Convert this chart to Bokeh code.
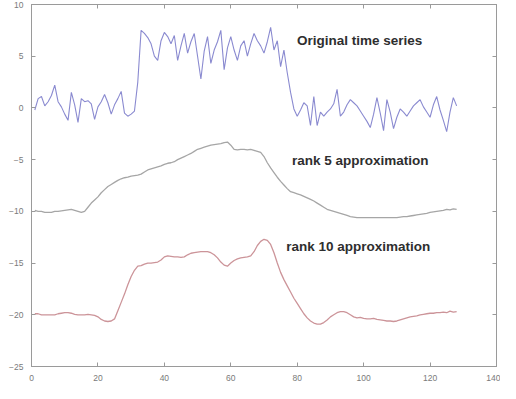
from bokeh.plotting import figure
from bokeh.models import Range1d, LinearAxis, SingleIntervalTicker, Label
from bokeh.embed import file_html
from bokeh.resources import INLINE

# ---- data ----
x_index = list(range(1, 129))

original = [
    -0.2, 0.9, 1.1, 0.2, 0.6, 1.2, 2.2, 0.6, 0.1, -0.6,
    -1.2, 1.5, 0.3, -1.4, 0.9, 0.6, 0.7, 0.4, -1.1, 0.1,
    0.6, 1.3, 0.5, -0.6, 0.3, 0.9, 1.6, -0.5, -0.8, -0.6,
    -0.3, 2.5, 7.5, 7.2, 6.8, 6.2, 5.0, 4.6, 6.5, 7.3,
    6.9, 6.2, 7.0, 4.6, 6.0, 7.2, 5.3, 6.4, 7.2, 5.0,
    2.8, 5.5, 6.9, 4.3, 5.6, 6.4, 7.5, 3.7, 5.8, 6.9,
    5.6, 4.6, 6.0, 6.5, 5.0, 6.2, 7.2, 6.5, 6.0, 5.3,
    6.4, 7.8, 5.6, 6.5, 4.0, 5.6, 3.4, 1.5, -0.1, -0.8,
    -0.2, 0.5, 0.2, -1.7, 1.1, -1.7, -0.4, -0.8, -0.4, -0.1,
    0.4, 1.8, -0.8, -0.4, 0.3, 0.8, 0.5, 0.2, -0.3, -0.8,
    -1.3, -1.9, -0.6, 1.0, -0.5, -2.2, 0.8, -0.4, -2.0, -0.9,
    -0.1, -0.4, -0.8, -0.3, 0.2, 0.5, 0.8, 0.1, -0.4, -0.9,
    0.3, 1.1, -0.2, -1.2, -2.3, -0.4, 1.0, 0.2,
]

rank5 = [
    -9.9, -10.0, -10.0, -10.1, -10.1, -10.1, -10.0, -10.0, -9.95, -9.9,
    -9.85, -9.8, -9.9, -10.0, -10.1, -10.0, -9.6, -9.2, -8.9, -8.6,
    -8.2, -7.9, -7.6, -7.4, -7.2, -7.0, -6.85, -6.75, -6.7, -6.6,
    -6.55, -6.5, -6.4, -6.2, -6.0, -5.9, -5.8, -5.7, -5.6, -5.45,
    -5.35, -5.3, -5.2, -5.0, -4.85, -4.7, -4.55, -4.4, -4.2, -4.0,
    -3.9, -3.8, -3.7, -3.6, -3.55, -3.5, -3.45, -3.35, -3.3, -3.6,
    -4.0, -4.05, -4.0, -4.0, -4.05, -4.0, -4.1, -4.2, -4.3, -4.7,
    -5.3, -5.8, -6.25, -6.7, -7.1, -7.45, -7.8, -8.1, -8.2, -8.3,
    -8.4, -8.55, -8.7, -8.85, -9.0, -9.2, -9.4, -9.6, -9.8, -9.9,
    -10.0, -10.1, -10.2, -10.3, -10.4, -10.5, -10.55, -10.6, -10.6, -10.6,
    -10.6, -10.6, -10.6, -10.6, -10.6, -10.6, -10.6, -10.6, -10.6, -10.6,
    -10.55, -10.5, -10.5, -10.45, -10.4, -10.35, -10.3, -10.25, -10.2, -10.1,
    -10.05, -10.0, -9.95, -9.9, -9.8, -9.85, -9.75, -9.8,
]

rank10 = [
    -19.9, -19.9, -20.0, -20.0, -20.0, -20.0, -20.0, -19.9, -19.85, -19.8,
    -19.8, -19.85, -19.95, -20.0, -20.0, -20.0, -19.95, -20.0, -20.05, -20.2,
    -20.45, -20.6, -20.65, -20.6, -20.4, -19.6, -18.8, -18.0, -17.1, -16.3,
    -15.7, -15.3, -15.25, -15.1, -15.0, -15.0, -14.95, -14.9, -14.7, -14.4,
    -14.3, -14.35, -14.4, -14.4, -14.45, -14.4, -14.2, -14.05, -14.0, -13.95,
    -13.9, -13.9, -13.9, -14.0, -14.2, -14.5, -14.9, -15.2, -15.3, -15.0,
    -14.75, -14.6, -14.5, -14.45, -14.4, -14.3, -13.9, -13.3, -12.9, -12.7,
    -12.8, -13.2, -14.0, -15.0, -15.9, -16.6, -17.2, -17.8, -18.4, -18.9,
    -19.4, -19.9, -20.3, -20.6, -20.8, -20.9, -20.9, -20.75, -20.5, -20.2,
    -20.0, -19.8, -19.7, -19.7, -19.8, -20.0, -20.2, -20.3, -20.25, -20.35,
    -20.4, -20.4, -20.35, -20.45, -20.5, -20.55, -20.6, -20.6, -20.65, -20.6,
    -20.5, -20.4, -20.3, -20.2, -20.15, -20.1, -20.0, -19.95, -19.9, -19.85,
    -19.85, -19.8, -19.8, -19.75, -19.8, -19.65, -19.75, -19.7,
]

label_texts = ["Original time series", "rank 5 approximation", "rank 10 approximation"]
label_x = [79.9, 78.4, 76.7]
label_y = [6.5, -5.05, -13.4]

x_range = (0, 140)
y_range = (-25, 10)
x_tick_step = 20
y_tick_step = 5

# ---- figure ----
AXIS_COLOR = "#9a9a9a"
TICK_LABEL_COLOR = "#7a7a7a"

p = figure(width=500, height=383, output_backend="svg", toolbar_location=None,
           x_range=Range1d(*x_range), y_range=Range1d(*y_range),
           min_border_left=31, min_border_right=1, min_border_top=2,
           min_border_bottom=17, background_fill_color="white",
           border_fill_color="white")
p.grid.visible = False
p.outline_line_color = AXIS_COLOR
p.outline_line_width = 1

def style_axis(ax, show_labels):
    ax.axis_line_color = AXIS_COLOR
    ax.major_tick_line_color = AXIS_COLOR
    ax.major_tick_in = 4
    ax.major_tick_out = 0
    ax.minor_tick_line_color = None
    ax.major_label_text_font = "Liberation Sans"
    if show_labels:
        ax.major_label_text_color = TICK_LABEL_COLOR
        ax.major_label_text_font_size = "8.5px"
        ax.major_label_standoff = 4
    else:
        ax.major_label_text_color = None
        ax.major_label_text_font_size = "0px"
        ax.major_label_standoff = 0

p.xaxis.ticker = SingleIntervalTicker(interval=x_tick_step)
p.yaxis.ticker = SingleIntervalTicker(interval=y_tick_step)
style_axis(p.xaxis[0], True)
style_axis(p.yaxis[0], True)

top_ax = LinearAxis(ticker=SingleIntervalTicker(interval=x_tick_step))
right_ax = LinearAxis(ticker=SingleIntervalTicker(interval=y_tick_step))
style_axis(top_ax, False)
style_axis(right_ax, False)
p.add_layout(top_ax, "above")
p.add_layout(right_ax, "right")

p.line(x_index, original, line_color="#8a8ad0", line_width=1.1)
p.line(x_index, rank5, line_color="#a6a6a6", line_width=1.3)
p.line(x_index, rank10, line_color="#cc9499", line_width=1.3)

for t, lx, ly in zip(label_texts, label_x, label_y):
    p.add_layout(Label(x=lx, y=ly, text=t, text_font="Liberation Sans",
                       text_font_style="bold",
                       text_font_size="13.5px", text_color="#2e2e2e",
                       text_baseline="middle", text_align="left"))

open("out.html", "w").write(file_html(p, INLINE))
